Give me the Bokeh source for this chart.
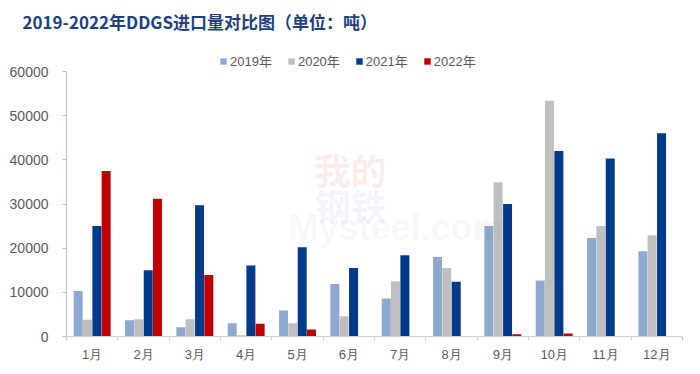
import numpy as np
from bokeh.plotting import figure
from bokeh.models import (ColumnDataSource, Range1d, LinearAxis, FixedTicker, Legend, LegendItem,
                          Label, NumeralTickFormatter)
from bokeh.transform import dodge
from bokeh.embed import file_html
from bokeh.resources import INLINE

months = ["1月", "2月", "3月", "4月", "5月", "6月", "7月", "8月", "9月", "10月", "11月", "12月"]
series = ["2019年", "2020年", "2021年", "2022年"]
y2019 = [10300, 3700, 2100, 3000, 5900, 11900, 8600, 18000, 25000, 12700, 22300, 19300]
y2020 = [3800, 3900, 3900, 300, 3000, 4600, 12500, 15500, 34900, 53400, 25000, 22900]
y2021 = [25000, 15000, 29700, 16100, 20200, 15500, 18400, 12400, 30000, 42000, 40300, 46000]
y2022 = [37500, 31200, 13900, 2900, 1600, np.nan, np.nan, np.nan, 500, 700, np.nan, np.nan]
yticks = [0, 10000, 20000, 30000, 40000, 50000, 60000]
title_text = "2019-2022年DDGS进口量对比图（单位：吨）"

colors = ["#8DA9CF", "#BFBFBF", "#003A8C", "#C00000"]
offsets = [-0.272, -0.092, 0.092, 0.272]

n = len(months)
centers = [i + 0.5 for i in range(n)]
edges = list(range(n + 1))
src = ColumnDataSource(dict(pos=centers, y2019=y2019, y2020=y2020, y2021=y2021, y2022=y2022))

FONT = "Liberation Sans, Noto Sans CJK SC"

# frame spans y 40..336; value axis 0..60000 spans y 71..336
ymax = yticks[-1]
y_end = ymax * (336 - 40) / (336 - 71)

p = figure(width=700, height=374, x_range=Range1d(0, n), y_range=Range1d(0, y_end),
           output_backend="svg", toolbar_location=None, x_axis_location=None, y_axis_location=None,
           min_border_left=66, min_border_right=18, min_border_top=40, min_border_bottom=38,
           outline_line_color=None, background_fill_color="white")
p.grid.visible = False

p.title.text = title_text
p.title.align = "left"
p.title.offset = -44
p.title.standoff = 13
p.title.text_font = "Noto Sans CJK SC"
p.title.text_font_size = "17px"
p.title.text_font_style = "bold"
p.title.text_color = "#1F3F7F"

yaxis = LinearAxis(ticker=FixedTicker(ticks=yticks), formatter=NumeralTickFormatter(format="0"),
                   bounds=(0, ymax),
                   axis_line_color="#BFBFBF", major_tick_line_color="#BFBFBF",
                   major_tick_out=4, major_tick_in=0, minor_tick_line_color=None,
                   major_label_text_font_size="14px", major_label_text_color="#595959",
                   major_label_standoff=14, major_label_text_font=FONT)
p.add_layout(yaxis, "left")

xaxis = LinearAxis(ticker=FixedTicker(ticks=centers, minor_ticks=edges),
                   major_label_overrides={c: m for c, m in zip(centers, months)},
                   axis_line_color="#D0D0D0", major_tick_line_color=None, major_tick_out=0,
                   minor_tick_line_color="#D0D0D0", minor_tick_out=4, minor_tick_in=0,
                   major_label_text_font_size="13px", major_label_text_color="#595959",
                   major_label_standoff=6, major_label_text_font="Liberation Sans",
                   axis_label_standoff=0)
p.add_layout(xaxis, "below")

items = []
for key, name, col, off in zip(["y2019", "y2020", "y2021", "y2022"], series, colors, offsets):
    r = p.vbar(x=dodge("pos", off), top=key, width=0.175, source=src,
               fill_color=col, line_color=None)
    items.append(LegendItem(label=name, renderers=[r]))

legend = Legend(items=items, orientation="horizontal", location=(153, 266),
                glyph_width=8, glyph_height=8, label_standoff=3, spacing=15,
                padding=0, margin=0, border_line_color=None, background_fill_alpha=0,
                label_text_font_size="13px", label_text_color="#595959", label_text_font=FONT,
                label_height=14)
p.add_layout(legend, "center")

# watermark
p.add_layout(Label(x=248, y=168, x_units="screen", y_units="screen", text="我的",
                   text_font_size="36px", text_font="Noto Sans CJK SC", text_font_style="bold",
                   text_color="#E03030", text_alpha=0.1, text_baseline="middle"))
p.add_layout(Label(x=248, y=132, x_units="screen", y_units="screen", text="钢铁",
                   text_font_size="36px", text_font="Noto Sans CJK SC", text_font_style="bold",
                   text_color="#3050A0", text_alpha=0.08, text_baseline="middle"))
p.add_layout(Label(x=222, y=109, x_units="screen", y_units="screen", text="Mysteel.com",
                   text_font_size="36px", text_font="Liberation Sans", text_font_style="bold",
                   text_color="#808080", text_alpha=0.08, text_baseline="middle"))

open("out.html", "w").write(file_html(p, INLINE))
